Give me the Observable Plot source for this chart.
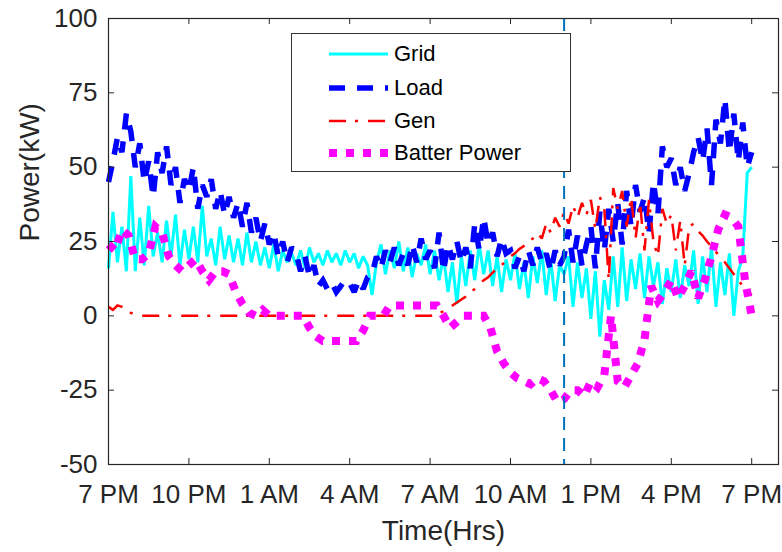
<!DOCTYPE html>
<html><head><meta charset="utf-8">
<script src="https://cdn.jsdelivr.net/npm/d3@7"></script>
<script src="https://cdn.jsdelivr.net/npm/@observablehq/plot@0.6"></script>
<style>
body{margin:0;background:#fff;font-family:"Liberation Sans",Arial,sans-serif;}
#wrap{position:relative;width:782px;height:552px;}
#legend{position:absolute;left:291px;top:33px;width:280px;height:139px;border:1.3px solid #333;background:#fff;box-sizing:border-box;}
.row{position:absolute;left:0;height:30px;display:flex;align-items:center;white-space:nowrap;}
.row svg{position:absolute;left:36px;top:9px;}
.row span{position:absolute;left:102px;top:2px;font-size:22px;color:#000;line-height:26px;}
</style></head><body>
<div id="wrap"><div id="chart"></div><div id="legend"></div></div>
<script>
// ---- data ----
const seriesNames = ["Grid", "Load", "Gen", "Batter Power"];
const xTickHours = [0, 3, 6, 9, 12, 15, 18, 21, 24];
const xTickLabels = ["7 PM", "10 PM", "1 AM", "4 AM", "7 AM", "10 AM", "1 PM", "4 PM", "7 PM"];
const yTicks = [-50, -25, 0, 25, 50, 75, 100];
const markerHour = [17];

// 10-minute samples from 7 PM (hour 0) to 7 PM next day (hour 24)
const gridPower = [
  16, 35, 18, 30, 15, 47,
  15, 33, 17, 37, 20, 28,
  18, 32, 20, 34, 17, 29,
  19, 30, 18, 37, 20, 26,
  17, 30, 19, 27, 18, 26,
  17, 28, 18, 25, 17, 23,
  16, 24, 15, 22, 18, 21,
  17, 22, 16, 23, 18, 21,
  17, 22, 18, 21, 17, 22,
  18, 21, 16, 20, 17, 7,
  18, 24, 14, 22, 16, 25,
  15, 23, 13, 21, 17, 24,
  14, 22, 12, 20, 8, 18,
  4, 20, 10, 22, 12, 24,
  14, 22, 10, 20, 8, 19,
  12, 21, 9, 18, 6, 20,
  11, 22, 7, 19, 5, 17,
  14, 20, 3, 18, 6, 16,
  -1, 15, -7, 12, 2, 20,
  3, 23, 5, 19, 9, 21,
  6, 20, 10, 18, 4, 16,
  8, 19, 6, 17, 10, 22,
  4, 20, 8, 23, 3, 18,
  7, 21, 0, 15, 20, 48,
  50
];
const loadPower = [
  45, 52, 60, 55, 68, 62,
  50, 58, 45, 52, 40, 55,
  48, 57, 44, 50, 38, 46,
  42, 50, 36, 44, 40, 46,
  36, 42, 34, 40, 33, 38,
  30, 38, 28, 33, 25, 31,
  24, 28, 20, 25, 18, 23,
  21, 15, 20, 13, 17, 10,
  12, 9, 11, 8, 10, 9,
  11, 8, 12, 9, 13, 14,
  20, 16, 22, 18, 23, 17,
  21, 17, 24, 18, 26, 19,
  22, 16, 28, 15, 24, 19,
  25, 18, 23, 16, 31, 22,
  33, 24, 28, 20, 26, 21,
  22, 16, 20, 15, 22, 17,
  23, 18, 21, 15, 22, 17,
  20, 29, 18, 27, 17, 24,
  30, 16, 35, 22, 36, 25,
  38, 24, 42, 30, 44, 35,
  40, 28, 45, 34, 57, 50,
  53, 44, 50, 42, 48, 55,
  60, 52, 63, 44, 66, 58,
  73, 55, 68, 52, 65, 50,
  55
];
const genPower = [
  3, 2, 3.5, 3, 2, 1,
  0.5, 0, 0, 0, 0, 0,
  0, 0, 0, 0, 0, 0,
  0, 0, 0, 0, 0, 0,
  0, 0, 0, 0, 0, 0,
  0, 0, 0, 0, 0, 0,
  0, 0, 0, 0, 0, 0,
  0, 0, 0, 0, 0, 0,
  0, 0, 0, 0, 0, 0,
  0, 0, 0, 0, 0, 0,
  0, 0, 0, 0, 0, 0,
  0, 0, 0, 0, 0, 0,
  0, 0.3, 1, 1.5, 2.5, 3.5,
  4.5, 5.5, 6.5, 8, 9, 10.5,
  12, 13, 14.5, 16, 17, 18.5,
  20, 21, 22.5, 23.5, 25, 26,
  28, 26, 31, 28, 33, 30,
  35, 31, 37, 33, 38, 34,
  39, 29, 40, 36, 12, 43,
  36, 42, 30, 40, 26, 38,
  22, 39, 25, 20, 36, 31,
  34, 22, 32, 17, 30, 31,
  28.5, 27, 25, 23.3, 21.5, 19.8,
  18, 16, 14, 12, 10, 8.5,
  7
];
// 15-minute samples
const batteryPower = [
  24, 22, 29, 27,
  19, 19, 21, 30,
  28, 20, 17, 15,
  17, 19, 15, 12,
  15, 15, 14, 8,
  4, 1, 0, 2,
  0, 0, 0, 0,
  0, 0, -4, -7,
  -8.5, -8.5, -8.5, -8.5,
  -8.5, -8.5, -5, 0,
  0, 0, 3.5, 3.5,
  3.5, 3.5, 3.5, 3.5,
  3.5, 3.5, 0, -4,
  -2, 0, 0, 0,
  0, -4, -12, -16,
  -19, -21, -22, -23,
  -21, -22, -25, -29,
  -28, -25, -25, -27,
  -22, -24, -20, 0,
  -22, -24, -20, -16,
  -8, 10, 5, 8,
  12, 6, 10, 15,
  6, 12, 20, 29,
  34, 33, 30, 12,
  0
];

// ---- styles ----
const seriesStyles = [
  {stroke: "#00FFFF", strokeWidth: 3, strokeDasharray: null},
  {stroke: "#0000FF", strokeWidth: 5.5, strokeDasharray: "16,12"},
  {stroke: "#FF0000", strokeWidth: 2.5, strokeDasharray: "17,9,3,10"},
  {stroke: "#FF00FF", strokeWidth: 8, strokeDasharray: "8,9"}
];

const hours10 = d3.range(gridPower.length).map(i => i / 6);
const hours15 = d3.range(batteryPower.length).map(i => i / 4);
const rows = (vals, t) => vals.map((v, i) => ({t: t[i], v}));
const seriesData = [
  rows(gridPower, hours10),
  rows(loadPower, hours10),
  rows(genPower, hours10),
  rows(batteryPower, hours15)
];

const ink = "#262626";
const lineMarks = seriesData.map((data, k) => Plot.line(data, {
  x: "t", y: "v",
  stroke: seriesStyles[k].stroke,
  strokeWidth: seriesStyles[k].strokeWidth,
  strokeDasharray: seriesStyles[k].strokeDasharray,
  strokeLinecap: "butt", strokeLinejoin: "miter", strokeMiterlimit: 2
}));

const chart = Plot.plot({
  width: 782, height: 552,
  marginLeft: 108, marginRight: 4, marginTop: 18, marginBottom: 88,
  style: {fontFamily: '"Liberation Sans", Arial, sans-serif', fontSize: "26px", color: ink, background: "#fff", overflow: "visible"},
  x: {domain: [0, 25]},
  y: {domain: [-50, 100]},
  marks: [
    ...lineMarks,
    Plot.ruleX(markerHour, {x: d => d, stroke: "#0072BD", strokeWidth: 2, strokeDasharray: "13,8"}),
    Plot.frame({stroke: ink, strokeWidth: 1.2}),
    Plot.tickX(xTickHours, {x: d => d, stroke: ink, insetTop: 440}),
    Plot.tickX(xTickHours, {x: d => d, stroke: ink, insetBottom: 440}),
    Plot.tickY(yTicks, {y: d => d, stroke: ink, insetRight: 664}),
    Plot.tickY(yTicks, {y: d => d, stroke: ink, insetLeft: 664}),
    Plot.axisX({ticks: xTickHours, tickFormat: d => xTickLabels[xTickHours.indexOf(d)], tickSize: 0, tickPadding: 20, label: null}),
    Plot.axisY({ticks: yTicks, tickFormat: d => String(d), tickSize: 0, tickPadding: 11, label: null}),
    Plot.text(["Time(Hrs)"], {text: d => d, frameAnchor: "bottom", dy: 56, lineAnchor: "top", fontSize: 28, fill: ink}),
    Plot.text(["Power(kW)"], {text: d => d, frameAnchor: "left", dx: -78, rotate: -90, lineAnchor: "middle", fontSize: 28, fill: ink})
  ]
});
document.getElementById("chart").appendChild(chart);

// ---- legend ----
const legend = document.getElementById("legend");
const rowCenters = [20, 54, 87, 119];
seriesNames.forEach((name, k) => {
  const s = seriesStyles[k];
  const row = document.createElement("div");
  row.className = "row";
  row.style.top = (rowCenters[k] - 15) + "px";
  row.innerHTML = `<svg width="62" height="12"><line x1="1" x2="60" y1="6" y2="6" stroke="${s.stroke}" stroke-width="${s.strokeWidth}" ${s.strokeDasharray ? `stroke-dasharray="${s.strokeDasharray}"` : ""}/></svg><span>${name}</span>`;
  legend.appendChild(row);
});
</script>
</body></html>
